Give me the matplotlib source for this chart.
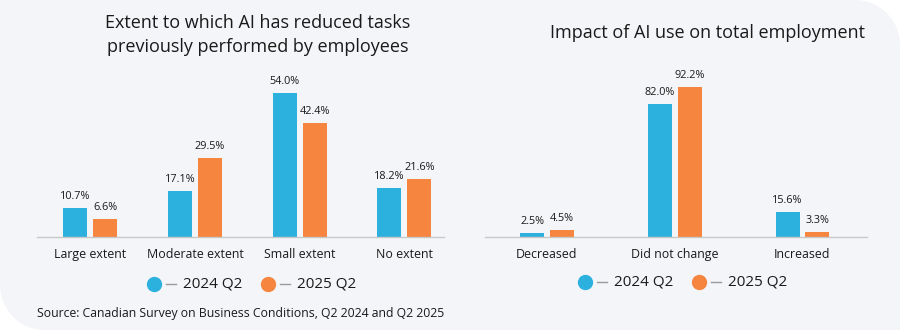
import numpy as np
import matplotlib
matplotlib.use("Agg")
import matplotlib.pyplot as plt
from matplotlib.path import Path
from matplotlib.patches import PathPatch
from matplotlib.lines import Line2D

plt.rcParams['font.family'] = ['Open Sans', 'DejaVu Sans']

# ---- data ----
left_title = "Extent to which AI has reduced tasks\npreviously performed by employees"
left_categories = ["Large extent", "Moderate extent", "Small extent", "No extent"]
left_2024 = [10.7, 17.1, 54.0, 18.2]
left_2025 = [6.6, 29.5, 42.4, 21.6]

right_title = "Impact of AI use on total employment"
right_categories = ["Decreased", "Did not change", "Increased"]
right_2024 = [2.5, 82.0, 15.6]
right_2025 = [4.5, 92.2, 3.3]

series_labels = ["2024 Q2", "2025 Q2"]
source_text = "Source: Canadian Survey on Business Conditions, Q2 2024 and Q2 2025"

BLUE = "#2cb1de"
ORANGE = "#f5853f"
BG = "#f4f5f8"
TEXT = "#1a1a1a"
AXIS = "#c8c8c8"

W, H = 900, 330
fig = plt.figure(figsize=(W / 100, H / 100), dpi=100)
fig.patch.set_facecolor("white")

# background panel with rounded top-right and bottom-left corners
r = 45
verts = [(0, H)]
for a in np.linspace(90, 0, 20):
    verts.append((W - r + r * np.cos(np.radians(a)), H - r + r * np.sin(np.radians(a))))
verts.append((W, 0))
for a in np.linspace(270, 180, 20):
    verts.append((r + r * np.cos(np.radians(a)), r + r * np.sin(np.radians(a))))
verts.append((0, H))
verts = [(x / W, y / H) for x, y in verts]
bg = PathPatch(Path(verts, closed=True), transform=fig.transFigure,
               facecolor=BG, edgecolor="none", zorder=-5)
fig.patches.append(bg)


def px_axes(x0, x1, y_base, height):
    # x in px from left; y_base in px from top
    return fig.add_axes([x0 / W, (H - y_base) / H, (x1 - x0) / W, height / H])


def draw(ax, cats, v1, v2, xlim, ylim, width, off):
    x = np.arange(len(cats))
    ax.set_facecolor("none")
    b1 = ax.bar(x - off, v1, width, color=BLUE, zorder=2)
    b2 = ax.bar(x + off, v2, width, color=ORANGE, zorder=2)
    for bars, vals in ((b1, v1), (b2, v2)):
        for b, v in zip(bars, vals):
            ax.annotate(f"{v:.1f}%", (b.get_x() + b.get_width() / 2, v),
                        xytext=(0, 6), textcoords="offset pixels",
                        ha="center", va="bottom", fontsize=7.8, color=TEXT)
    ax.set_xlim(*xlim)
    ax.set_ylim(*ylim)
    ax.set_xticks(x)
    ax.set_xticklabels(cats, fontsize=8.9, color=TEXT)
    ax.tick_params(axis="x", length=0, pad=8)
    ax.set_yticks([])
    for s in ("top", "right", "left"):
        ax.spines[s].set_visible(False)
    ax.spines["bottom"].set_color(AXIS)
    ax.spines["bottom"].set_linewidth(1.0)


axL = px_axes(37, 444, 236.5, 160)
draw(axL, left_categories, left_2024, left_2025, (-0.51, 3.38), (0, 60), 0.23, 0.144)
axR = px_axes(485, 867, 237.3, 163)
draw(axR, right_categories, right_2024, right_2025, (-0.485, 2.505), (0, 100), 0.188, 0.117)

fig.text(258 / W, 1 - 35 / H, left_title, ha="center", va="center",
         fontsize=13, color=TEXT, linespacing=1.45)
fig.text(707 / W, 1 - 33 / H, right_title, ha="center", va="center",
         fontsize=13, color=TEXT)


def legend(x_start, y):
    colors = [BLUE, ORANGE]
    xs = [x_start, x_start + 114]
    for c, lab, x0 in zip(colors, series_labels, xs):
        fig.add_artist(Line2D([(x0 + 12) / W, (x0 + 22) / W], [1 - y / H] * 2,
                              color="#9a9a9a", lw=1.0, transform=fig.transFigure))
        fig.add_artist(Line2D([x0 / W], [1 - y / H], marker="o", markersize=10,
                              markerfacecolor=c, markeredgecolor=c, linestyle="none",
                              transform=fig.transFigure))
        fig.text((x0 + 29) / W, 1 - y / H, lab, ha="left", va="center",
                 fontsize=11, color=TEXT)


legend(154, 284)
legend(585, 282)

fig.text(37 / W, 1 - 313 / H, source_text, ha="left", va="center",
         fontsize=8.8, color=TEXT)

fig.savefig("out.png", dpi=100, facecolor="white")
